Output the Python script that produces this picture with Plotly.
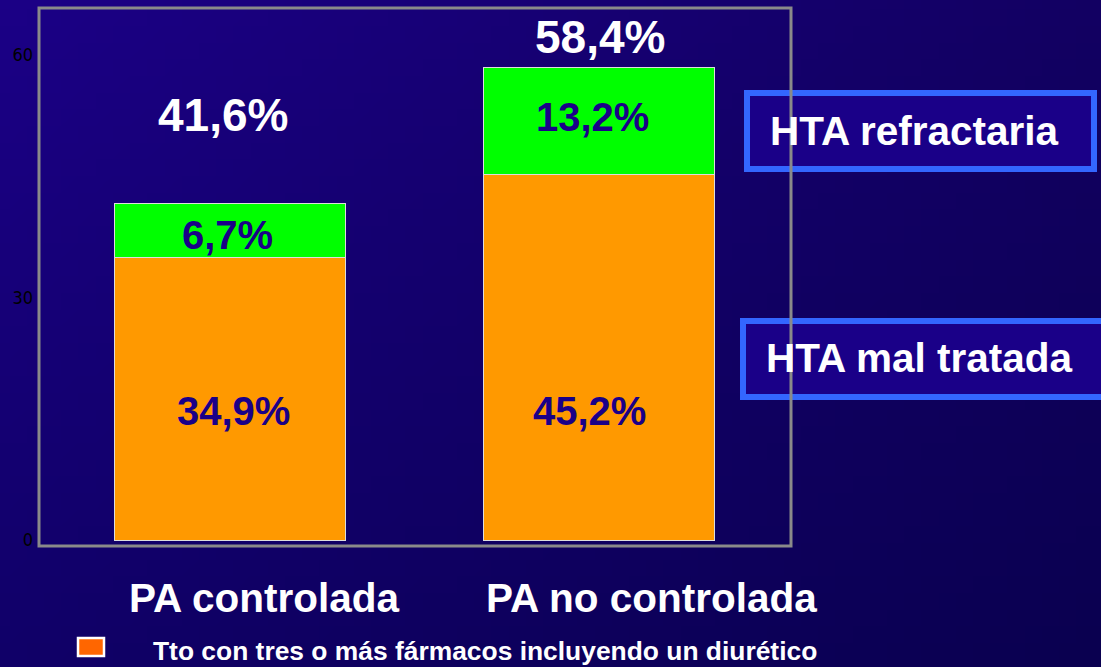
import base64, struct, zlib
import plotly.graph_objects as go

# ---- data ----
categories = ["PA controlada", "PA no controlada"]
mal_tratada = [34.9, 45.2]      # orange
refractaria = [6.7, 13.2]       # green
totales = [41.6, 58.4]
y_ticks = [0, 30, 60]
legend_text = "Tto con tres o más fármacos incluyendo un diurético"
box_labels = ["HTA refractaria", "HTA mal tratada"]

def fmt(v):
    return f"{v:.1f}".replace(".", ",") + "%"

# ---- background gradient image (generated locally) ----
def gradient_png(w, h, tl, tr, bl, br):
    rows = []
    for j in range(h):
        fy = j / (h - 1)
        row = bytearray([0])
        for i in range(w):
            fx = i / (w - 1)
            px_ = []
            for c in range(3):
                top = tl[c] * (1 - fx) + tr[c] * fx
                bot = bl[c] * (1 - fx) + br[c] * fx
                px_.append(int(round(top * (1 - fy) + bot * fy)))
            row += bytes(px_)
        rows.append(bytes(row))
    raw = b"".join(rows)
    def chunk(t, d):
        c = struct.pack(">I", len(d)) + t + d
        return c + struct.pack(">I", zlib.crc32(t + d) & 0xffffffff)
    png = b"\x89PNG\r\n\x1a\n"
    png += chunk(b"IHDR", struct.pack(">IIBBBBB", w, h, 8, 2, 0, 0, 0))
    png += chunk(b"IDAT", zlib.compress(raw, 9))
    png += chunk(b"IEND", b"")
    return "data:image/png;base64," + base64.b64encode(png).decode()

bg = gradient_png(64, 40, (27, 0, 134), (18, 0, 98), (16, 0, 104), (10, 0, 80))

# pixel -> paper helpers (plot area x 39..791, y 8..546)
L, R, T, B = 39, 791, 8, 546
W, H = R - L, B - T
def px(x): return (x - L) / W
def py(y): return (B - y) / H

FONT = "Liberation Sans, Arial, sans-serif"
NAVY = "#1a0088"

fig = go.Figure()
fig.add_trace(go.Bar(x=categories, y=mal_tratada, marker=dict(color="#ff9900", line=dict(color="#dddddd", width=1)),
                     width=0.625, showlegend=False, hoverinfo="skip"))
fig.add_trace(go.Bar(x=categories, y=refractaria, marker=dict(color="#00ff00", line=dict(color="#dddddd", width=1)),
                     width=0.625, showlegend=False, hoverinfo="skip"))

annotations = []
shifts_orange = [4, -10]
shifts_green = [-2, -7]
shifts_total = [-7, 1]
for i, c in enumerate(categories):
    annotations.append(dict(x=c, y=16, text=fmt(mal_tratada[i]), showarrow=False, xshift=shifts_orange[i],
                            font=dict(family=FONT, size=40, color=NAVY, weight="bold")))
    annotations.append(dict(x=c, y=mal_tratada[i] + refractaria[i] / 2, text=fmt(refractaria[i]),
                            showarrow=False, xshift=shifts_green[i], yshift=(-4 if i == 0 else 4),
                            font=dict(family=FONT, size=40, color=NAVY, weight="bold")))
tot_y = [52.6, 62.2]
for i, c in enumerate(categories):
    annotations.append(dict(x=c, y=tot_y[i], text=fmt(totales[i]), showarrow=False, xshift=shifts_total[i],
                            font=dict(family=FONT, size=46, color="white", weight="bold")))
cat_x = [264, 651]
for i, c in enumerate(categories):
    annotations.append(dict(xref="paper", yref="paper", x=px(cat_x[i]), y=py(598), text=c, showarrow=False,
                            xanchor="center", yanchor="middle",
                            font=dict(family=FONT, size=40.5, color="white", weight="bold")))
annotations.append(dict(xref="paper", yref="paper", x=px(151), y=py(651), text=legend_text, showarrow=False,
                        xanchor="left", yanchor="middle",
                        font=dict(family=FONT, size=26.4, color="white", weight="bold")))
annotations.append(dict(xref="paper", yref="paper", x=px(768), y=py(131), text=box_labels[0], showarrow=False,
                        xanchor="left", yanchor="middle", font=dict(family=FONT, size=40.5, color="white", weight="bold")))
annotations.append(dict(xref="paper", yref="paper", x=px(764), y=py(358), text=box_labels[1], showarrow=False,
                        xanchor="left", yanchor="middle", font=dict(family=FONT, size=40.5, color="white", weight="bold")))

shapes = [
    dict(type="rect", xref="paper", yref="paper", x0=0, x1=1, y0=0, y1=1,
         line=dict(color="#8a8a8a", width=3), fillcolor="rgba(0,0,0,0)", layer="above"),
    dict(type="rect", xref="paper", yref="paper", x0=px(747), x1=px(1094), y0=py(169), y1=py(93),
         line=dict(color="#3366ff", width=6), fillcolor=NAVY, layer="below"),
    dict(type="rect", xref="paper", yref="paper", x0=px(743), x1=px(1106), y0=py(397), y1=py(321),
         line=dict(color="#3366ff", width=6), fillcolor=NAVY, layer="below"),
    dict(type="rect", xref="paper", yref="paper", x0=px(78), x1=px(104), y0=py(656), y1=py(638),
         line=dict(color="white", width=2.5), fillcolor="#ff6600", layer="above"),
    dict(type="rect", xref="paper", yref="paper", x0=px(1101), x1=px(1115), y0=py(680), y1=py(-10),
         line=dict(width=0), fillcolor="white", layer="above"),
]

fig.update_layout(
    width=1109, height=667,
    barmode="stack",
    margin=dict(l=L, r=1109 - R, t=T, b=667 - B, pad=0),
    paper_bgcolor="white",
    plot_bgcolor="rgba(0,0,0,0)",
    xaxis=dict(range=[-0.516, 1.519], showticklabels=False, showgrid=False, zeroline=False, showline=False,
               fixedrange=True),
    yaxis=dict(range=[-0.74, 65.8], tickvals=y_ticks, ticktext=[str(v) for v in y_ticks],
               showgrid=False, zeroline=False, showline=False, ticks="",
               tickfont=dict(family="Liberation Sans Narrow, Arial Narrow, DejaVu Sans Condensed, sans-serif",
                             size=18, color="black"),
               ticklabelstandoff=5, fixedrange=True),
    images=[dict(source=bg, xref="paper", yref="paper", x=px(0), y=py(0), sizex=(1101) / W, sizey=667 / H,
                 xanchor="left", yanchor="top", sizing="stretch", layer="below")],
    shapes=shapes,
    annotations=annotations,
    showlegend=False,
)

fig.write_html("out.html", config={"displayModeBar": False},
               post_script="document.body.style.margin='0';document.body.style.padding='0';")
